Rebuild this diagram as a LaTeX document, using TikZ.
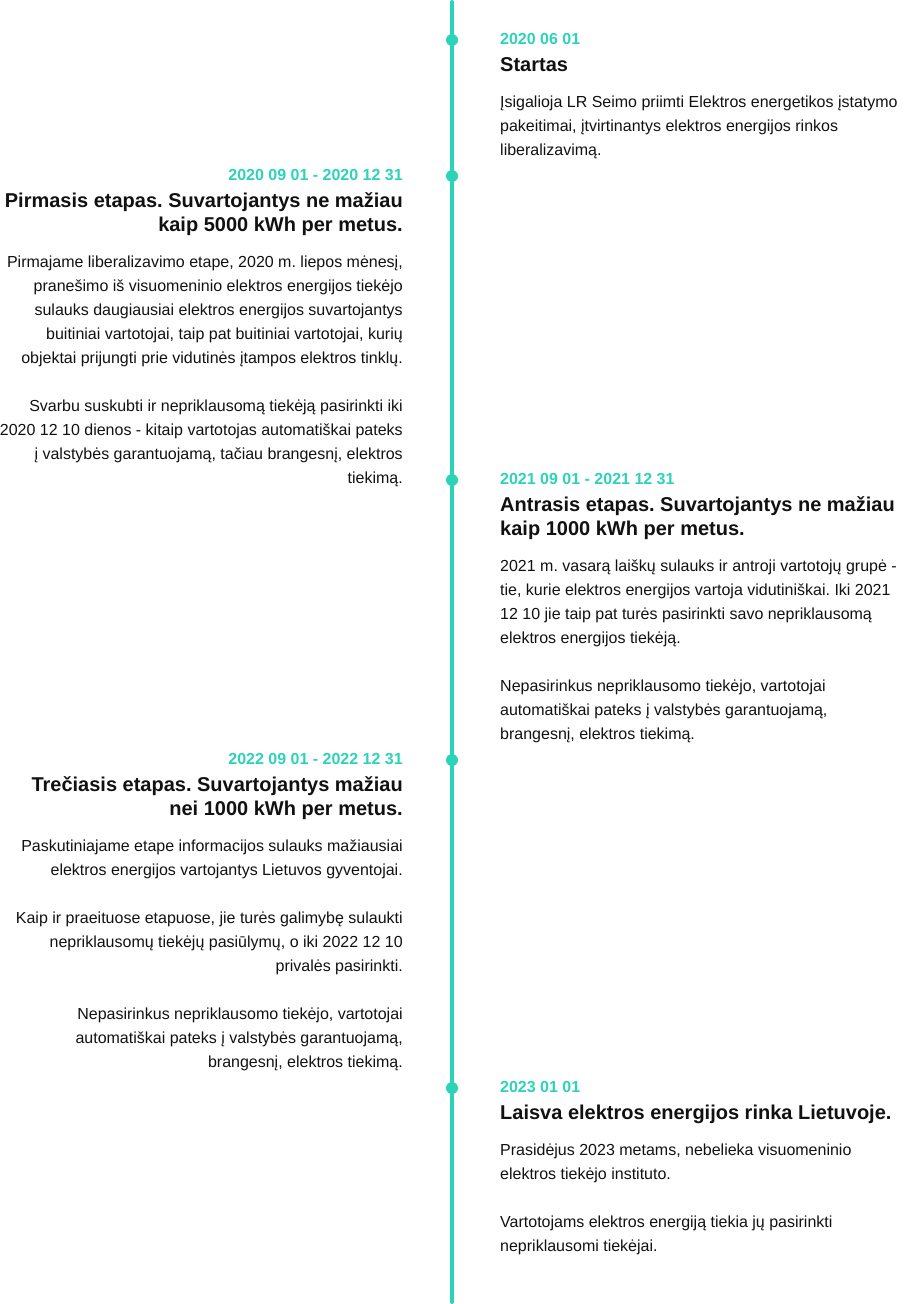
\documentclass[tikz,border=0pt]{standalone}
\usepackage{fontspec}
\setmainfont{Liberation Sans}
\frenchspacing
\definecolor{teal}{RGB}{44,211,184}
\definecolor{ink}{RGB}{17,17,17}
\tikzset{
  x=1pt, y=-1pt,
  tline/.style={draw=teal, line width=4pt, line cap=round},
  tdot/.style={circle, fill=teal, minimum size=12pt, inner sep=0pt},
  datel/.style={inner sep=0pt, text=teal, font=\fontsize{16}{24}\selectfont\bfseries},
  titlel/.style={inner sep=0pt, text=ink, font=\fontsize{20}{24}\selectfont\bfseries},
  bodyl/.style={inner sep=0pt, text=ink, font=\fontsize{16}{24}\selectfont},
}
\newcommand{\lbox}[1]{\parbox[t]{440pt}{\frenchspacing\raggedleft #1}}
\newcommand{\rbox}[1]{\parbox[t]{440pt}{\frenchspacing\raggedright #1}}
\begin{document}
\begin{tikzpicture}
\useasboundingbox (0,0) rectangle (904,1304);
\coordinate (top) at (452,2);
\coordinate (bot) at (452,1302);
\draw[tline] (top) -- (bot);
\node[tdot] (d1) at (452,40) {};
\node[tdot] (d2) at (452,176) {};
\node[tdot] (d3) at (452,480) {};
\node[tdot] (d4) at (452,760) {};
\node[tdot] (d5) at (452,1088) {};

% item 1 (right)
\node[datel, anchor=base west] (date1) at (500,44) {2020 06 01};
\node[titlel, anchor=base west] (title1) at (500,71.5) {\rbox{Startas}};
\node[bodyl, anchor=base west] (body1) at (500,107.5) {\rbox{Įsigalioja LR Seimo priimti Elektros energetikos įstatymo\\
pakeitimai, įtvirtinantys elektros energijos rinkos\\
liberalizavimą.}};

% item 2 (left)
\node[datel, anchor=base east] (date2) at (403,180) {2020 09 01 - 2020 12 31};
\node[titlel, anchor=base east] (title2) at (403,207.5) {\lbox{Pirmasis etapas. Suvartojantys ne mažiau\\
kaip 5000 kWh per metus.}};
\node[bodyl, anchor=base east] (body2) at (403,267.5) {\lbox{Pirmajame liberalizavimo etape, 2020 m. liepos mėnesį,\\
pranešimo iš visuomeninio elektros energijos tiekėjo\\
sulauks daugiausiai elektros energijos suvartojantys\\
buitiniai vartotojai, taip pat buitiniai vartotojai, kurių\\
objektai prijungti prie vidutinės įtampos elektros tinklų.\\[24pt]
Svarbu suskubti ir nepriklausomą tiekėją pasirinkti iki\\
2020 12 10 dienos - kitaip vartotojas automatiškai pateks\\
į valstybės garantuojamą, tačiau brangesnį, elektros\\
tiekimą.}};

% item 3 (right)
\node[datel, anchor=base west] (date3) at (500,484) {2021 09 01 - 2021 12 31};
\node[titlel, anchor=base west] (title3) at (500,511.5) {\rbox{Antrasis etapas. Suvartojantys ne mažiau\\
kaip 1000 kWh per metus.}};
\node[bodyl, anchor=base west] (body3) at (500,571.5) {\rbox{2021 m. vasarą laiškų sulauks ir antroji vartotojų grupė -\\
tie, kurie elektros energijos vartoja vidutiniškai. Iki 2021\\
12 10 jie taip pat turės pasirinkti savo nepriklausomą\\
elektros energijos tiekėją.\\[24pt]
Nepasirinkus nepriklausomo tiekėjo, vartotojai\\
automatiškai pateks į valstybės garantuojamą,\\
brangesnį, elektros tiekimą.}};

% item 4 (left)
\node[datel, anchor=base east] (date4) at (403,764) {2022 09 01 - 2022 12 31};
\node[titlel, anchor=base east] (title4) at (403,791.5) {\lbox{Trečiasis etapas. Suvartojantys mažiau\\
nei 1000 kWh per metus.}};
\node[bodyl, anchor=base east] (body4) at (403,851.5) {\lbox{Paskutiniajame etape informacijos sulauks mažiausiai\\
elektros energijos vartojantys Lietuvos gyventojai.\\[24pt]
Kaip ir praeituose etapuose, jie turės galimybę sulaukti\\
nepriklausomų tiekėjų pasiūlymų, o iki 2022 12 10\\
privalės pasirinkti.\\[24pt]
Nepasirinkus nepriklausomo tiekėjo, vartotojai\\
automatiškai pateks į valstybės garantuojamą,\\
brangesnį, elektros tiekimą.}};

% item 5 (right)
\node[datel, anchor=base west] (date5) at (500,1092) {2023 01 01};
\node[titlel, anchor=base west] (title5) at (500,1119.5) {\rbox{Laisva elektros energijos rinka Lietuvoje.}};
\node[bodyl, anchor=base west] (body5) at (500,1155.5) {\rbox{Prasidėjus 2023 metams, nebelieka visuomeninio\\
elektros tiekėjo instituto.\\[24pt]
Vartotojams elektros energiją tiekia jų pasirinkti\\
nepriklausomi tiekėjai.}};
\end{tikzpicture}
\end{document}
